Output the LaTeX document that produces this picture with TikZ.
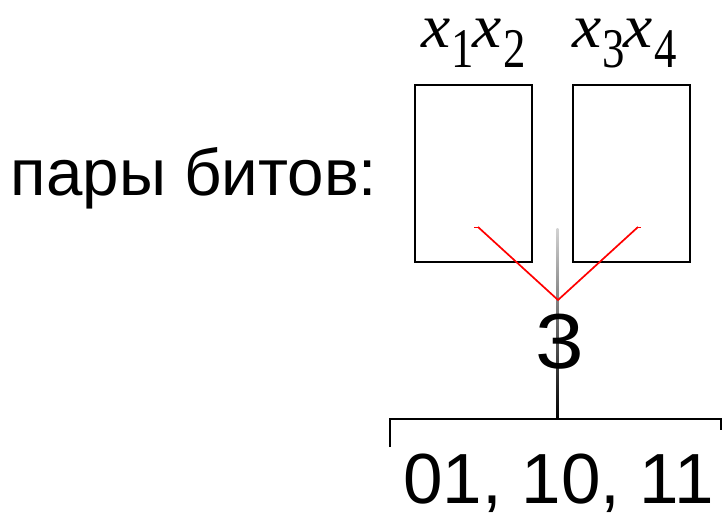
\documentclass[tikz,border=0pt]{standalone}
\usepackage{fontspec}
\setmainfont{Liberation Sans}
\newfontfamily\tms{Liberation Serif}
\tikzset{
  bitbox/.style={draw=black, line width=2.4pt, minimum width=117pt, minimum height=177pt, inner sep=0pt, anchor=north west},
  redline/.style={draw=red, line width=1.7pt},
  bracketline/.style={draw=black, line width=1.8pt},
  lbl/.style={inner sep=0pt, anchor=base west},
}
\newcommand{\xsub}[2]{{\tms\fontsize{62}{62}\selectfont\itshape\scalebox{1.06}[1]{x}\kern1pt\raisebox{-20pt}{\upshape\fontsize{56}{56}\selectfont\scalebox{0.8}[1]{#1}}\kern-1pt \scalebox{1.06}[1]{x}\kern2pt\raisebox{-20pt}{\upshape\fontsize{56}{56}\selectfont\scalebox{0.8}[1]{#2}}}}
\begin{document}
\begin{tikzpicture}[x=1pt, y=-1pt]
\useasboundingbox (0,0) rectangle (722,512);
% text
\node[lbl] (pairs) at (10.5,195) {\fontsize{65.5}{66}\selectfont пары битов:};
\node[lbl] (lx12) at (421,47) {\xsub{1}{2}};
\node[lbl] (lx34) at (572,47) {\xsub{3}{4}};
% boxes
\node[bitbox] (boxA) at (414,84) {};
\node[bitbox] (boxB) at (572,84) {};
% vertical gray line
\coordinate (vtop) at (557.5,228);
\coordinate (vbot) at (557.5,419);
\shade[top color=gray!35, bottom color=black] (556.7,228) rectangle (558.3,419);
% red lines
\coordinate (ra) at (478,227);
\coordinate (rj) at (558,300);
\coordinate (rb) at (638,227);
\draw[redline] (ra) -- (rj) -- (rb);
\draw[red, line width=1pt] (ra) -- ++(-4,0);
\draw[red, line width=1pt] (rb) -- ++(3,0);
% number
\node[inner sep=0pt, anchor=base] (three) at (560,368) {\fontsize{78}{78}\selectfont\scalebox{1.12}[1]{3}};
% bracket
\coordinate (bl) at (390,447);
\coordinate (blt) at (390,419);
\coordinate (brt) at (721,419);
\coordinate (br) at (721,430);
\draw[bracketline] (bl) -- (blt) -- (brt) -- (br);
\node[lbl] (vals) at (403,503) {\fontsize{71}{71}\selectfont 01, 10, 11};
\end{tikzpicture}
\end{document}
